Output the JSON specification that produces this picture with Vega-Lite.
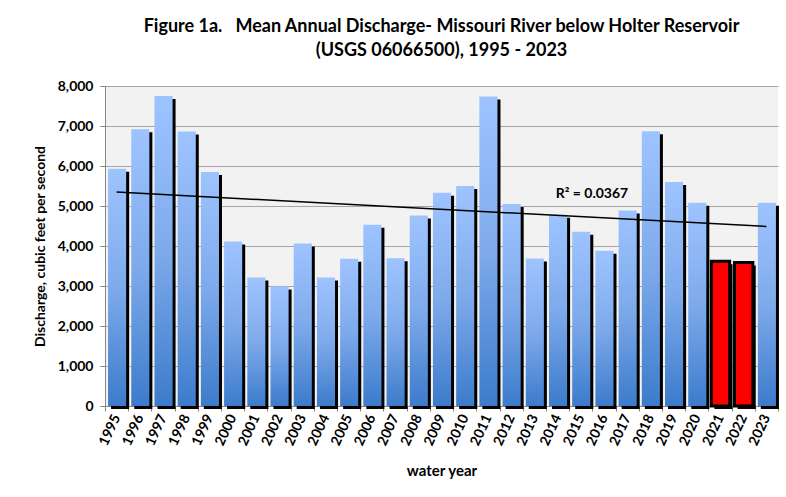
{
  "$schema": "https://vega.github.io/schema/vega-lite/v6.json",
  "width": 673,
  "height": 320,
  "autosize": {"type": "none"},
  "padding": {"left": 105, "top": 86, "right": 8, "bottom": 91},
  "background": "white",
  "config": {
    "font": "Lato",
    "view": {"fill": "#F2F2F2", "stroke": null}
  },
  "title": {
    "text": ["Figure 1a.\u00a0\u00a0\u00a0Mean Annual Discharge- Missouri River below Holter Reservoir", "(USGS 06066500), 1995 - 2023"],
    "font": "Lato",
    "fontSize": 18,
    "fontWeight": "bold",
    "color": "black",
    "anchor": "middle",
    "lineHeight": 24,
    "offset": 19
  },
  "data": {
    "values": [
      {"year": 1995, "value": 5930},
      {"year": 1996, "value": 6920},
      {"year": 1997, "value": 7750},
      {"year": 1998, "value": 6865},
      {"year": 1999, "value": 5850},
      {"year": 2000, "value": 4115},
      {"year": 2001, "value": 3210},
      {"year": 2002, "value": 2990},
      {"year": 2003, "value": 4065},
      {"year": 2004, "value": 3210},
      {"year": 2005, "value": 3680},
      {"year": 2006, "value": 4530},
      {"year": 2007, "value": 3695},
      {"year": 2008, "value": 4765},
      {"year": 2009, "value": 5330},
      {"year": 2010, "value": 5500},
      {"year": 2011, "value": 7740},
      {"year": 2012, "value": 5050},
      {"year": 2013, "value": 3690},
      {"year": 2014, "value": 4780},
      {"year": 2015, "value": 4355},
      {"year": 2016, "value": 3880},
      {"year": 2017, "value": 4890},
      {"year": 2018, "value": 6870},
      {"year": 2019, "value": 5600},
      {"year": 2020, "value": 5080},
      {"year": 2021, "value": 3620},
      {"year": 2022, "value": 3590},
      {"year": 2023, "value": 5080}
    ]
  },
  "encoding": {
    "x": {
      "field": "year",
      "type": "ordinal",
      "scale": {"paddingInner": 0, "paddingOuter": 0},
      "axis": {
        "title": "water year",
        "titleFontSize": 15,
        "titleFontWeight": "bold",
        "titleColor": "black",
        "titlePadding": 16,
        "labelAngle": -65,
        "labelAlign": "right",
        "labelBaseline": "middle",
        "labelFontSize": 14,
        "labelFontWeight": "bold",
        "labelColor": "black",
        "labelPadding": 4,
        "tickBand": "extent",
        "tickColor": "#868686",
        "tickSize": 5,
        "domainColor": "#868686"
      }
    },
    "y": {
      "field": "value",
      "type": "quantitative",
      "scale": {"domain": [0, 8000], "nice": false},
      "axis": {
        "title": "Discharge, cubic feet per second",
        "titleFontSize": 14,
        "titleFontWeight": "bold",
        "titleColor": "black",
        "titlePadding": 10,
        "values": [0, 1000, 2000, 3000, 4000, 5000, 6000, 7000, 8000],
        "format": ",d",
        "labelFontSize": 14,
        "labelFontWeight": "bold",
        "labelColor": "black",
        "labelPadding": 7,
        "tickColor": "#868686",
        "tickSize": 5,
        "domainColor": "#868686",
        "gridColor": "#A6A6A6",
        "grid": true
      }
    }
  },
  "layer": [
    {
      "mark": {"type": "bar", "color": "black", "width": {"band": 0.78}, "xOffset": 3.5, "yOffset": 3, "y2Offset": 0}
    },
    {
      "transform": [{"filter": "datum.year < 2021 || datum.year > 2022"}],
      "mark": {
        "type": "bar",
        "width": {"band": 0.78},
        "xOffset": 0.5,
        "color": {
          "gradient": "linear",
          "x1": 0, "y1": 0, "x2": 0, "y2": 1,
          "stops": [
            {"offset": 0, "color": "#9EC4FF"},
            {"offset": 0.5, "color": "#7EAAEB"},
            {"offset": 1, "color": "#3C7BCB"}
          ]
        }
      }
    },
    {
      "transform": [{"filter": "datum.year >= 2021 && datum.year <= 2022"}],
      "mark": {"type": "bar", "width": {"band": 0.79}, "xOffset": 0.5, "fill": "#FF0000", "stroke": "black", "strokeWidth": 3}
    },
    {
      "transform": [{"regression": "value", "on": "year"}],
      "mark": {"type": "line", "color": "black", "strokeWidth": 1.5}
    },
    {
      "data": {"values": [{"year": 2016, "value": 5300, "label": "R² = 0.0367"}]},
      "mark": {"type": "text", "fontSize": 14, "fontWeight": "bold", "color": "black", "dx": -12, "baseline": "middle"},
      "encoding": {"text": {"field": "label"}}
    }
  ]
}
